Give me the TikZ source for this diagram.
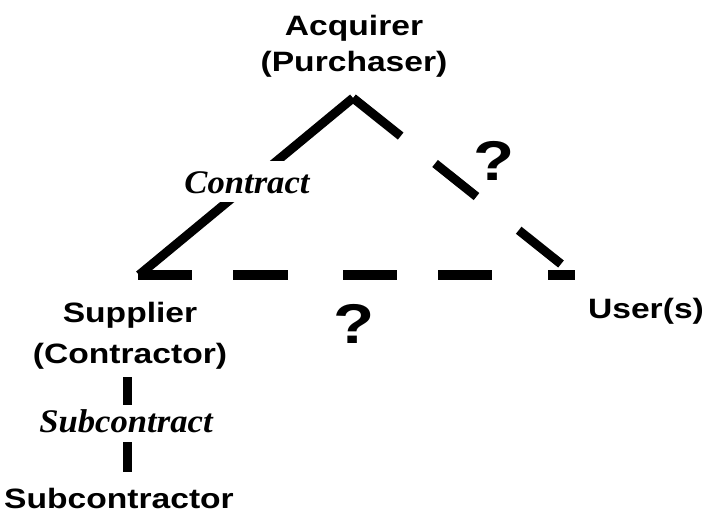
\documentclass[tikz,border=0pt]{standalone}
\usepackage{fontspec}
\newfontfamily\labfont[FakeStretch=1.2]{Liberation Sans Bold}
\newfontfamily\relfont[FakeStretch=1.05]{Liberation Serif Bold Italic}
\begin{document}
\begin{tikzpicture}[x=1pt,y=-1pt,
  party/.style={inner sep=0pt,align=center,font=\labfont\fontsize{28}{36}\selectfont},
  qmark/.style={inner sep=0pt,font=\labfont\fontsize{56}{56}\selectfont},
  rel/.style={fill=white,inner xsep=2pt,font=\relfont\fontsize{33}{36}\selectfont,text height=23pt},
  solidlink/.style={line width=9pt,line cap=butt},
  diaglink/.style={line width=9pt,line cap=butt,dash pattern=on 61pt off 44pt on 53pt off 54pt on 60pt off 20pt},
  horizlink/.style={line width=10pt,line cap=butt,dash pattern=on 54pt off 41pt on 55pt off 55pt on 54pt off 41pt on 54pt off 56pt}]
\useasboundingbox (0,0) rectangle (706,514);
% parties (base = baseline of last line)
\node[party,anchor=base] (acq) at (354,71) {Acquirer\\(Purchaser)};
\node[party,anchor=base] (sup) at (130,363) {Supplier\\[5pt](Contractor)};
\node[party,anchor=base] (usr) at (646,318) {User(s)};
\node[party,anchor=base] (sub) at (119,508) {Subcontractor};
% triangle corners
\coordinate (apex) at (353,98);
\coordinate (lc) at (139,275);
\coordinate (lh) at (138,275);
\coordinate (rc) at (575,275);
\coordinate (re) at (561,264);
\coordinate (vt) at (127,377);
\coordinate (vb) at (127,472);
% links
\draw[solidlink] (apex) -- (lc);
\draw[diaglink] (apex) -- (re);
\draw[horizlink] (lh) -- (rc);
\draw[solidlink] (vt) -- (vb);
% labels
\node[rel,anchor=base,text depth=0pt,inner ysep=9pt] (con) at (247,193) {Contract};
\node[rel,anchor=base,text depth=6pt,inner ysep=4pt] (subcon) at (126,432) {Subcontract};
\node[qmark,anchor=base] (q1) at (494,180) {?};
\node[qmark,anchor=base] (q2) at (354,343) {?};
\end{tikzpicture}
\end{document}
